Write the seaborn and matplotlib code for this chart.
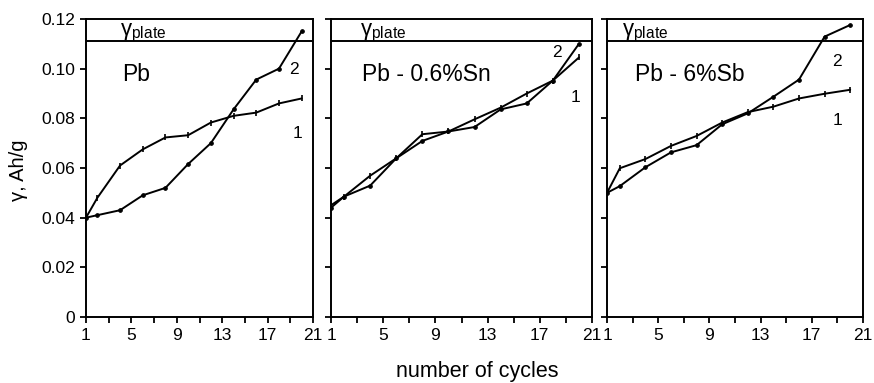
import numpy as np
import pandas as pd
import matplotlib
matplotlib.use("Agg")
import matplotlib.pyplot as plt
import seaborn as sns

sns.set_theme(style="white")
plt.rcParams['font.family'] = ['Liberation Sans', 'DejaVu Sans']
plt.rcParams['mathtext.fontset'] = 'custom'
plt.rcParams['mathtext.rm'] = 'Liberation Sans'
plt.rcParams['mathtext.it'] = 'Liberation Sans'
plt.rcParams['text.color'] = 'black'

cycles = [1, 2, 4, 6, 8, 10, 12, 14, 16, 18, 20]
panels = ["Pb", "Pb - 0.6%Sn", "Pb - 6%Sb"]

pb_1 = [0.040, 0.048, 0.061, 0.0675, 0.0723, 0.0732, 0.0783, 0.081, 0.0823, 0.086, 0.088]
pb_2 = [0.040, 0.041, 0.043, 0.049, 0.052, 0.0616, 0.070, 0.0836, 0.0956, 0.100, 0.115]
sn_1 = [0.045, 0.0485, 0.0569, 0.0639, 0.0736, 0.0747, 0.0796, 0.0843, 0.090, 0.0952, 0.1045]
sn_2 = [0.044, 0.0485, 0.0529, 0.0639, 0.0709, 0.0747, 0.0765, 0.0836, 0.086, 0.0952, 0.110]
sb_1 = [0.050, 0.0599, 0.0636, 0.0689, 0.0729, 0.0783, 0.0825, 0.0847, 0.088, 0.0899, 0.0915]
sb_2 = [0.050, 0.0527, 0.0603, 0.0663, 0.0692, 0.0776, 0.082, 0.0887, 0.0956, 0.1129, 0.1176]

plate_level = 0.111
y_ticks = [0, 0.02, 0.04, 0.06, 0.08, 0.10, 0.12]
y_ticklabels = ["0", "0.02", "0.04", "0.06", "0.08", "0.10", "0.12"]
x_ticks = [1, 5, 9, 13, 17, 21]

series = {
    "Pb": (pb_1, pb_2),
    "Pb - 0.6%Sn": (sn_1, sn_2),
    "Pb - 6%Sb": (sb_1, sb_2),
}

rows = []
for p in panels:
    s1, s2 = series[p]
    for c, v in zip(cycles, s1):
        rows.append(dict(panel=p, curve="1", cycle=c, gamma=v))
    for c, v in zip(cycles, s2):
        rows.append(dict(panel=p, curve="2", cycle=c, gamma=v))
df = pd.DataFrame(rows)

fig = plt.figure(figsize=(8.74, 3.83), dpi=100)
W, H = 874, 383
boxes = [(86, 227), (331, 261), (607, 256)]
top_px, bot_px = 19, 317

label_pos = {
    "Pb": dict(two=(0.916, 0.832), one=(0.933, 0.617), name=(0.16, 0.815), plate=0.15),
    "Pb - 0.6%Sn": dict(two=(0.865, 0.889), one=(0.935, 0.738), name=(0.119, 0.815), plate=0.11),
    "Pb - 6%Sb": dict(two=(0.897, 0.856), one=(0.902, 0.661), name=(0.109, 0.815), plate=0.057),
}

for i, p in enumerate(panels):
    lx, w = boxes[i]
    ax = fig.add_axes([lx / W, 1 - bot_px / H, w / W, (bot_px - top_px) / H])
    sub = df[df.panel == p]
    sns.lineplot(data=sub[sub.curve == "1"], x="cycle", y="gamma", ax=ax,
                 color="black", lw=1.4, marker="|", markersize=4.5, mew=1.2,
                 markeredgecolor="black")
    sns.lineplot(data=sub[sub.curve == "2"], x="cycle", y="gamma", ax=ax,
                 color="black", lw=1.4, marker="o", markersize=2.6,
                 markeredgecolor="black", markerfacecolor="black")
    ax.axhline(plate_level, color="black", lw=1.4)
    ax.set_xlim(1, 21)
    ax.set_ylim(0, 0.12)
    ax.set_xticks(np.arange(1, 22, 2), minor=True)
    ax.set_xticks(x_ticks)
    ax.set_xticklabels([str(t) for t in x_ticks], fontsize=12.5)
    ax.set_yticks(y_ticks)
    if i == 0:
        ax.set_yticklabels(y_ticklabels, fontsize=12.5)
    else:
        ax.set_yticklabels([])
    ax.tick_params(axis="both", which="both", direction="out", length=4, width=1.3,
                   color="black", pad=4, left=True, bottom=True, labelcolor="black")
    for s in ax.spines.values():
        s.set_color("black")
        s.set_linewidth(1.4)
    ax.set_xlabel("")
    ax.set_ylabel("")
    lp = label_pos[p]
    ax.text(*lp["name"], p, transform=ax.transAxes, fontsize=16.5, ha="left",
            va="center", color="black")
    ax.text(*lp["two"], "2", transform=ax.transAxes, fontsize=12.5, ha="center",
            va="center", color="black")
    ax.text(*lp["one"], "1", transform=ax.transAxes, fontsize=12.5, ha="center",
            va="center", color="black")
    ax.text(lp["plate"], 0.952, r"$\mathregular{\gamma_{plate}}$", transform=ax.transAxes,
            fontsize=16, ha="left", va="center", color="black")
    ax.set_facecolor("white")

fig.text(18 / W, 1 - 170 / H, "γ, Ah/g", rotation=90, fontsize=14.5, ha="center",
         va="center", color="black")
fig.text(477 / W, 1 - 371 / H, "number of cycles", fontsize=15.5, ha="center",
         va="center", color="black")

fig.savefig("out.png", dpi=100, facecolor="white")
